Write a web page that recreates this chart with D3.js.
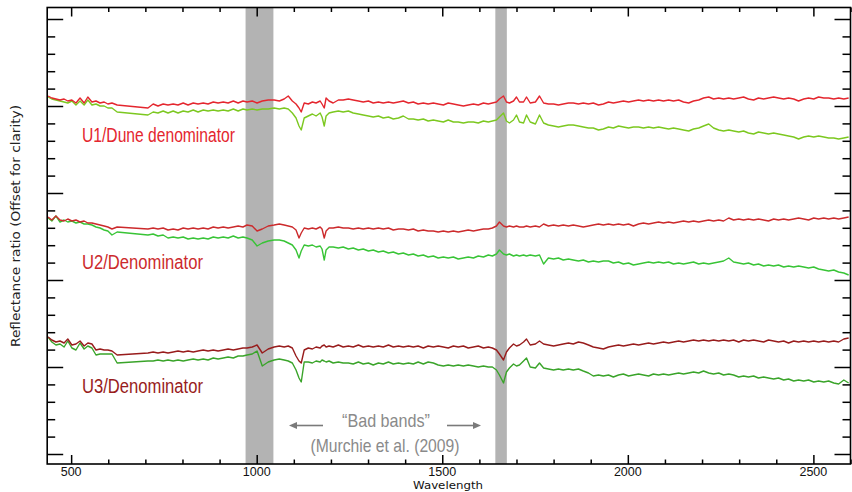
<!DOCTYPE html>
<html><head><meta charset="utf-8">
<script src="https://cdn.jsdelivr.net/npm/d3@7"></script>
<style>html,body{margin:0;padding:0;background:#fff;}svg{display:block;}</style>
</head><body>
<script>
// ---- data ----
const wavelengths = [438,448,459,470,481,491,502,513,524,535,545,556,567,578,589,599,610,624,
707,721,734,748,761,775,788,802,815,829,842,856,869,883,896,910,923,937,950,963,
974,988,1001,1015,1031,1047,
1061,1074,1085,1096,1106,1114,1120,1128,1139,1150,1160,1171,1176,1182,1187,1195,
1206,
1220,1233,1247,1260,1274,1287,1301,1314,1328,1341,1355,1368,1382,1395,1409,1422,1435,1449,1462,1476,1489,1503,1516,1530,1543,1557,1570,1584,1597,1611,1624,
1635,1646,1654,1665,1673,1681,1692,1700,1708,1719,1727,1737,
1751,1762,1773,
1786,1800,1813,1826,1840,1853,1867,1880,1894,1907,1921,1934,1948,1961,1975,1988,2002,2015,2029,2042,2056,2069,2083,2096,2110,2123,2137,2150,2164,2177,2191,2204,2218,2231,2245,2258,2272,2285,2299,2312,2325,2339,2352,2366,2379,2393,2406,2420,2433,2447,2460,2474,2487,2501,2514,2528,2541,2555,2568,2582,2595];

const u1Red = [1.008,1.004,1.002,1.000,1.002,0.998,1.000,0.994,1.004,0.994,1.006,0.996,0.998,0.994,0.996,0.992,0.994,0.990,
0.984,0.992,0.988,0.992,0.990,0.992,0.990,0.994,0.990,0.994,0.992,0.994,0.992,0.996,0.994,0.996,0.994,0.998,0.994,0.998,
0.996,0.998,0.994,0.998,1.000,1.000,
0.998,1.002,1.008,0.998,0.992,0.984,0.976,0.994,0.992,0.996,0.994,0.998,0.992,0.984,1.004,0.998,
0.994,
1.000,1.000,1.002,1.000,0.998,0.996,0.998,0.994,0.996,0.994,0.996,0.994,0.996,0.998,0.994,0.996,0.992,0.994,0.992,0.994,0.992,0.990,0.994,0.992,0.990,0.988,0.990,0.992,0.990,0.994,0.992,
0.994,0.996,1.002,1.008,0.996,0.994,0.998,1.006,0.996,0.996,1.006,0.994,
0.996,1.008,0.994,
0.992,0.992,0.990,0.992,0.994,0.994,0.992,0.994,0.992,0.994,
0.990,0.992,0.996,0.994,0.996,0.998,0.996,0.998,1.000,0.998,
1.000,0.998,1.000,0.998,1.000,0.998,1.000,0.996,0.994,0.998,
1.000,1.004,1.006,1.002,1.004,1.002,1.004,1.002,1.004,1.006,
1.002,1.000,1.004,1.002,1.004,1.006,1.004,1.002,1.004,1.002,
0.998,1.002,1.004,1.002,1.006,1.004,1.004,1.002,1.004,1.002,
1.004];

const u1Green = [1.006,1.002,1.000,0.998,0.996,0.994,0.998,0.990,0.998,0.990,1.000,0.990,0.992,0.988,0.988,0.984,0.984,0.976,
0.970,0.976,0.974,0.978,0.974,0.978,0.974,0.978,0.976,0.980,0.976,0.980,0.978,0.980,0.978,0.980,0.978,0.982,0.978,0.982,
0.980,0.982,0.980,0.982,0.982,0.984,
0.982,0.984,0.982,0.974,0.964,0.948,0.940,0.964,0.968,0.972,0.968,0.974,0.966,0.948,0.968,0.974,
0.976,
0.978,0.976,0.978,0.974,0.972,0.970,0.968,0.966,0.968,0.964,0.966,0.962,0.964,0.968,0.962,0.962,0.960,0.962,0.958,0.960,0.958,0.956,0.960,0.956,0.956,0.954,0.956,0.956,0.954,0.958,0.956,
0.958,0.960,0.966,0.974,0.958,0.954,0.960,0.970,0.956,0.954,0.970,0.956,
0.952,0.970,0.954,
0.950,0.948,0.946,0.948,0.950,0.950,0.948,0.946,0.944,0.944,
0.940,0.942,0.946,0.944,0.948,0.946,0.944,0.946,0.946,0.944,
0.946,0.944,0.946,0.944,0.942,0.944,0.942,0.940,0.938,0.942,
0.944,0.948,0.952,0.944,0.940,0.938,0.940,0.938,0.936,0.938,
0.934,0.932,0.936,0.934,0.932,0.934,0.932,0.930,0.928,0.926,
0.922,0.926,0.928,0.926,0.928,0.926,0.924,0.924,0.922,0.924,
0.926];

const u2Red = [0.766,0.760,0.768,0.760,0.758,0.762,0.758,0.760,0.756,0.758,0.754,0.754,0.752,0.750,0.748,0.746,0.742,0.746,
0.742,0.744,0.742,0.744,0.740,0.742,0.740,0.744,0.742,0.744,0.742,0.744,0.742,0.746,0.744,0.746,0.744,0.746,0.748,0.746,
0.750,0.748,0.738,0.742,0.748,0.750,
0.752,0.750,0.748,0.746,0.740,0.724,0.734,0.744,0.742,0.744,0.742,0.746,0.742,0.724,0.738,0.744,
0.744,
0.746,0.744,0.744,0.742,0.744,0.742,0.744,0.742,0.744,0.742,0.744,0.740,0.742,0.742,0.740,0.742,0.738,0.740,0.738,0.738,0.736,0.738,0.736,0.738,0.736,0.738,0.740,0.738,0.740,0.742,0.742,
0.744,0.748,0.756,0.748,0.746,0.748,0.746,0.748,0.746,0.746,0.748,0.746,
0.748,0.746,0.752,
0.748,0.750,0.748,0.750,0.748,0.750,0.748,0.746,0.748,0.750,
0.752,0.750,0.752,0.750,0.752,0.750,0.752,0.748,0.752,0.754,
0.752,0.754,0.756,0.754,0.756,0.754,0.756,0.758,0.756,0.758,
0.756,0.758,0.760,0.758,0.760,0.758,0.764,0.760,0.762,0.760,
0.762,0.760,0.762,0.760,0.758,0.762,0.760,0.762,0.760,0.762,
0.764,0.762,0.760,0.764,0.762,0.764,0.762,0.764,0.762,0.764,
0.766];

const u2Green = [0.764,0.758,0.768,0.756,0.760,0.756,0.758,0.754,0.756,0.752,0.752,0.750,0.746,0.744,0.740,0.738,0.730,0.736,
0.730,0.732,0.728,0.730,0.724,0.726,0.724,0.726,0.722,0.724,0.722,0.724,0.722,0.726,0.724,0.726,0.724,0.728,0.724,0.726,
0.724,0.720,0.708,0.714,0.718,0.720,
0.720,0.718,0.714,0.710,0.700,0.684,0.698,0.710,0.708,0.710,0.706,0.708,0.702,0.680,0.700,0.706,
0.706,
0.704,0.706,0.702,0.704,0.700,0.702,0.698,0.700,0.696,0.698,0.694,0.696,0.692,0.694,0.690,0.692,0.688,0.690,0.686,0.688,0.684,0.686,0.684,0.686,0.682,0.684,0.686,0.684,0.688,0.686,0.690,
0.688,0.692,0.700,0.692,0.690,0.692,0.688,0.690,0.688,0.690,0.688,0.690,
0.688,0.690,0.672,
0.684,0.682,0.684,0.680,0.682,0.680,0.678,0.680,0.676,0.678,
0.676,0.678,0.678,0.674,0.676,0.672,0.674,0.670,0.672,0.674,
0.676,0.674,0.676,0.674,0.676,0.672,0.674,0.672,0.674,0.676,
0.672,0.674,0.672,0.674,0.676,0.678,0.684,0.676,0.674,0.672,
0.674,0.670,0.672,0.668,0.670,0.668,0.670,0.666,0.668,0.666,
0.668,0.666,0.664,0.666,0.662,0.660,0.658,0.660,0.656,0.654,
0.650];

const u3Red = [0.526,0.520,0.516,0.518,0.514,0.522,0.510,0.512,0.518,0.508,0.514,0.512,0.500,0.502,0.500,0.500,0.498,0.490,
0.494,0.496,0.494,0.496,0.494,0.496,0.498,0.496,0.498,0.496,0.498,0.500,0.498,0.500,0.498,0.500,0.502,0.500,0.502,0.504,
0.504,0.506,0.510,0.494,0.502,0.506,
0.508,0.506,0.508,0.504,0.488,0.478,0.474,0.500,0.504,0.502,0.506,0.504,0.508,0.510,0.506,0.508,
0.506,
0.510,0.506,0.508,0.506,0.510,0.506,0.508,0.506,0.508,0.506,0.510,0.506,0.508,0.506,0.508,0.506,0.508,0.504,0.508,0.506,0.508,0.506,0.504,0.508,0.506,0.508,0.504,0.506,0.508,0.504,0.506,
0.504,0.500,0.492,0.480,0.496,0.504,0.512,0.508,0.510,0.516,0.522,0.510,
0.512,0.518,0.512,
0.510,0.508,0.510,0.512,0.514,0.512,0.516,0.514,0.510,0.506,
0.504,0.502,0.506,0.508,0.510,0.508,0.510,0.512,0.510,0.512,
0.514,0.512,0.514,0.516,0.514,0.516,0.518,0.516,0.518,0.520,
0.518,0.520,0.518,0.520,0.518,0.520,0.518,0.520,0.516,0.520,
0.518,0.520,0.518,0.516,0.520,0.518,0.516,0.518,0.514,0.518,
0.516,0.518,0.516,0.518,0.516,0.518,0.516,0.518,0.516,0.522,
0.524];

const u3Green = [0.526,0.516,0.510,0.512,0.506,0.518,0.504,0.500,0.514,0.502,0.508,0.504,0.490,0.492,0.492,0.492,0.492,0.474,
0.478,0.478,0.480,0.478,0.480,0.478,0.480,0.478,0.480,0.482,0.480,0.482,0.480,0.484,0.482,0.484,0.486,0.484,0.488,0.488,
0.490,0.492,0.498,0.468,0.476,0.480,
0.482,0.480,0.478,0.474,0.460,0.444,0.436,0.476,0.476,0.474,0.478,0.476,0.480,0.478,0.476,0.478,
0.474,
0.476,0.474,0.474,0.472,0.476,0.472,0.474,0.470,0.474,0.472,0.476,0.472,0.474,0.472,0.474,0.472,0.476,0.472,0.476,0.474,0.470,0.468,0.470,0.468,0.470,0.468,0.470,0.468,0.466,0.468,0.466,
0.466,0.460,0.450,0.434,0.456,0.464,0.472,0.468,0.470,0.478,0.484,0.466,
0.464,0.474,0.464,
0.462,0.460,0.462,0.460,0.462,0.460,0.462,0.458,0.454,0.448,
0.450,0.448,0.450,0.446,0.450,0.452,0.448,0.450,0.452,0.450,
0.448,0.452,0.450,0.452,0.450,0.452,0.454,0.452,0.454,0.456,
0.454,0.458,0.454,0.452,0.454,0.450,0.452,0.450,0.446,0.448,
0.446,0.448,0.444,0.446,0.444,0.442,0.444,0.440,0.442,0.438,
0.440,0.438,0.440,0.436,0.438,0.436,0.438,0.434,0.432,0.440,
0.434];

const seriesNames = ["U1 green","U1 red","U2 green","U2 red","U3 green","U3 red"];
const seriesValues = [u1Green, u1Red, u2Green, u2Red, u3Green, u3Red];
const seriesColors = ["#7cc820","#e4262e","#38c436","#cc2a2c","#3aa42a","#981c1c"];

const badBands = [[970,1045],[1643,1674]];
const xMajorTicks = [500,1000,1500,2000,2500];
const xTickLabels = ["500","1000","1500","2000","2500"];
const xMinorTicks = [600,700,800,900,1100,1200,1300,1400,1600,1700,1800,1900,2100,2200,2300,2400,2600];
const yMajorTicks = [0.292,0.466,0.640,0.814,0.988,1.162];
const yMinorStep = 0.0348;

const labels = [
  {text:"U1/Dune denominator", color:"#e4262e"},
  {text:"U2/Denominator", color:"#cc2a2c"},
  {text:"U3/Denominator", color:"#981c1c"}
];

// ---- layout ----
const W = 852, H = 492;
const L = 47.2, R = 850.5, T = 7.5, B = 464;

seriesValues.forEach((s,i)=>{ if(s.length!==wavelengths.length) throw new Error(seriesNames[i]+" length "+s.length+" vs "+wavelengths.length); });

const x = d3.scaleLinear().domain([435.5,2600]).range([L,R]);
const y = d3.scaleLinear().domain([0.272,1.185]).range([B,T]);

const svg = d3.select("body").append("svg").attr("width",W).attr("height",H);

svg.append("defs").append("clipPath").attr("id","plot")
  .append("rect").attr("x",L).attr("y",T).attr("width",R-L).attr("height",B-T);

// bad bands
svg.append("g").selectAll("rect").data(badBands).join("rect")
  .attr("x",d=>x(d[0])).attr("width",d=>x(d[1])-x(d[0]))
  .attr("y",T).attr("height",B-T).attr("fill","#b3b3b3");

// spectra
const line = d3.line().x((d,i)=>x(wavelengths[i])).y(d=>y(d));
svg.append("g").attr("clip-path","url(#plot)").selectAll("path").data(seriesValues).join("path")
  .attr("d",d=>line(d)).attr("fill","none")
  .attr("stroke",(d,i)=>seriesColors[i]).attr("stroke-width",1.4).attr("stroke-linejoin","round");

// axes with d3 axis generators (ticks inward)
const yMinor = d3.range(yMajorTicks[0], 1.185, yMinorStep).filter(v=>!yMajorTicks.some(m=>Math.abs(m-v)<1e-6));
function styleAxis(g){ g.select(".domain").remove(); g.selectAll("line").attr("stroke","#000").attr("stroke-width",1.5); g.selectAll("text").remove(); }

svg.append("g").attr("transform",`translate(0,${B})`).call(d3.axisBottom(x).tickValues(xMajorTicks).tickSize(-9)).call(styleAxis);
svg.append("g").attr("transform",`translate(0,${B})`).call(d3.axisBottom(x).tickValues(xMinorTicks).tickSize(-4.5)).call(styleAxis);
svg.append("g").attr("transform",`translate(0,${T})`).call(d3.axisTop(x).tickValues(xMajorTicks).tickSize(-9)).call(styleAxis);
svg.append("g").attr("transform",`translate(0,${T})`).call(d3.axisTop(x).tickValues(xMinorTicks).tickSize(-4.5)).call(styleAxis);
svg.append("g").attr("transform",`translate(${L},0)`).call(d3.axisLeft(y).tickValues(yMajorTicks).tickSize(-16)).call(styleAxis);
svg.append("g").attr("transform",`translate(${L},0)`).call(d3.axisLeft(y).tickValues(yMinor).tickSize(-8)).call(styleAxis);
svg.append("g").attr("transform",`translate(${R},0)`).call(d3.axisRight(y).tickValues(yMajorTicks).tickSize(-16)).call(styleAxis);
svg.append("g").attr("transform",`translate(${R},0)`).call(d3.axisRight(y).tickValues(yMinor).tickSize(-8)).call(styleAxis);

// frame
svg.append("rect").attr("x",L).attr("y",T).attr("width",R-L).attr("height",B-T)
  .attr("fill","none").attr("stroke","#000").attr("stroke-width",1.6);

// x tick labels
svg.append("g").selectAll("text").data(xMajorTicks).join("text")
  .attr("x",d=>x(d)).attr("y",476).attr("text-anchor","middle")
  .attr("font-family","Liberation Sans, Arial, sans-serif").attr("font-size",12.5)
  .attr("fill","#111").text((d,i)=>xTickLabels[i]);

svg.append("text").attr("x",448).attr("y",488.5).attr("text-anchor","middle")
  .attr("font-family","DejaVu Sans, sans-serif").attr("font-size",10.5).attr("fill","#111")
  .attr("textLength",70).attr("lengthAdjust","spacingAndGlyphs").text("Wavelength");

svg.append("text").attr("transform","translate(20,226) rotate(-90)").attr("text-anchor","middle")
  .attr("font-family","DejaVu Sans, sans-serif").attr("font-size",12).attr("fill","#222")
  .attr("textLength",242).attr("lengthAdjust","spacingAndGlyphs")
  .text("Reflectance ratio  (Offset for clarity)");

// series labels
const labelPos = [{x:82,y:141.5,w:153},{x:82,y:269,w:121},{x:82,y:393,w:121}];
svg.append("g").selectAll("text").data(labels).join("text")
  .attr("x",(d,i)=>labelPos[i].x).attr("y",(d,i)=>labelPos[i].y)
  .attr("font-family","Liberation Sans Narrow, Liberation Sans, Arial, sans-serif").attr("font-size",20)
  .attr("fill",d=>d.color).attr("textLength",(d,i)=>labelPos[i].w).attr("lengthAdjust","spacingAndGlyphs")
  .text(d=>d.text);

// bad band annotation
const ann = svg.append("g").attr("fill","#8a8a8a").attr("font-family","Liberation Sans Narrow, Liberation Sans, Arial, sans-serif").attr("font-size",19);
ann.append("text").attr("x",386).attr("y",427).attr("text-anchor","middle")
  .attr("textLength",88).attr("lengthAdjust","spacingAndGlyphs").text("\u201cBad bands\u201d");
ann.append("text").attr("x",385).attr("y",451.5).attr("text-anchor","middle")
  .attr("textLength",149).attr("lengthAdjust","spacingAndGlyphs").text("(Murchie et al. (2009)");
const arrowY = 425.5;
const arrows = [[323,289],[447,481]];
svg.append("g").selectAll("g").data(arrows).join("g").each(function(d){
  const g = d3.select(this), dir = Math.sign(d[1]-d[0]);
  g.append("line").attr("x1",d[0]).attr("x2",d[1]-dir*6).attr("y1",arrowY).attr("y2",arrowY)
    .attr("stroke","#7a7a7a").attr("stroke-width",1.6);
  g.append("path").attr("d",`M${d[1]},${arrowY} L${d[1]-dir*8},${arrowY-3.5} L${d[1]-dir*8},${arrowY+3.5} Z`).attr("fill","#7a7a7a");
});
</script>
</body></html>
